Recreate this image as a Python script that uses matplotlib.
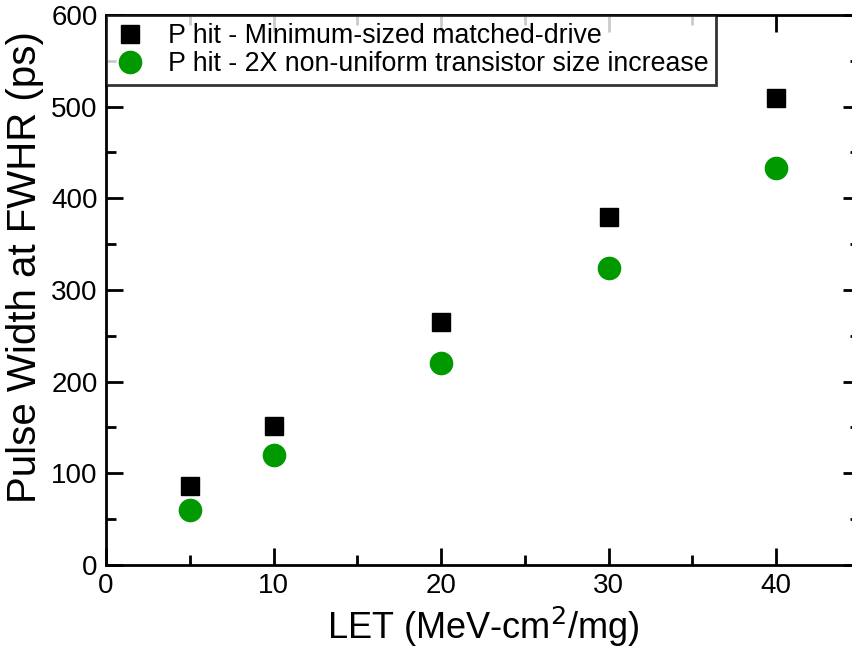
import numpy as np
import matplotlib
matplotlib.use('Agg')
import matplotlib.pyplot as plt
from matplotlib.ticker import MultipleLocator

plt.rcParams['font.family'] = ['Liberation Sans', 'DejaVu Sans']

let = [5, 10, 20, 30, 40]
pw_min = [86, 152, 265, 380, 509]
pw_2x = [60, 120, 220, 324, 433]

fig = plt.figure(figsize=(8.52, 6.51), dpi=100)
ax = fig.add_axes([0.1244, 0.1321, 0.885, 0.845])

ax.plot(let, pw_min, 's', color='black', markersize=13.5, label='P hit - Minimum-sized matched-drive')
ax.plot(let, pw_2x, 'o', color='#009900', markersize=16, label='P hit - 2X non-uniform transistor size increase')

ax.set_xlim(0, 45)
ax.set_ylim(0, 600)
ax.xaxis.set_major_locator(MultipleLocator(10))
ax.xaxis.set_minor_locator(MultipleLocator(5))
ax.yaxis.set_major_locator(MultipleLocator(100))
ax.yaxis.set_minor_locator(MultipleLocator(50))
ax.tick_params(which='both', direction='in', top=True, right=True, width=2, labelsize=20)
ax.tick_params(which='major', length=12)
ax.tick_params(which='minor', length=7)
ax.tick_params(axis='x', pad=6)
ax.tick_params(axis='y', pad=6)
for s in ax.spines.values():
    s.set_linewidth(2)

ax.set_xlabel('LET (MeV-cm$^2$/mg)', fontsize=26, labelpad=4)
ax.set_ylabel('Pulse Width at FWHR (ps)', fontsize=29)
ax.yaxis.set_label_coords(-0.082, 0.542)

leg = ax.legend(loc='upper left', fontsize=19.3, frameon=True, fancybox=False,
                borderaxespad=0, handletextpad=0.8, borderpad=0.3, labelspacing=0.08,
                handlelength=1.2)
leg.get_frame().set_edgecolor('black')
leg.get_frame().set_linewidth(2)

fig.savefig('out.png', dpi=100)
